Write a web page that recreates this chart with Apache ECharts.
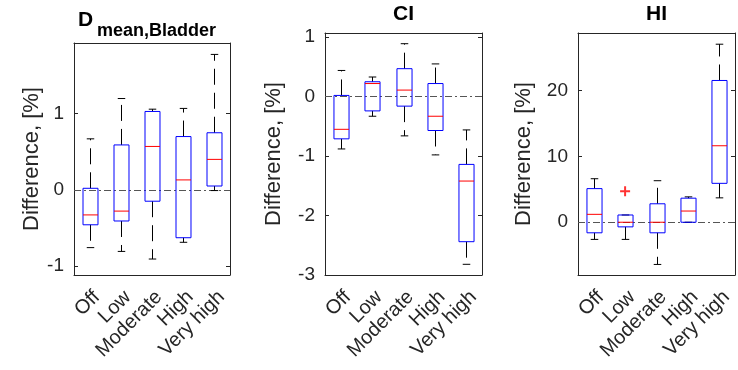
<!DOCTYPE html>
<html>
<head>
<meta charset="utf-8">
<script src="https://cdn.jsdelivr.net/npm/echarts@6/dist/echarts.min.js"></script>
<style>
  html, body { margin: 0; background: #fff; }
  #chart { width: 738px; height: 370px; }
</style>
</head>
<body>
<div id="chart"></div>
<script>
const categories = ['Off', 'Low', 'Moderate', 'High', 'Very high'];

// each box: [lower whisker, Q1, median, Q3, upper whisker]
const dmeanBoxes = [
  [-0.76, -0.46, -0.33, 0.02, 0.67],
  [-0.81, -0.41, -0.28, 0.59, 1.2],
  [-0.91, -0.15, 0.57, 1.03, 1.06],
  [-0.69, -0.63, 0.13, 0.7, 1.07],
  [-0.01, 0.05, 0.4, 0.75, 1.78]
];
const ciBoxes = [
  [-0.88, -0.71, -0.55, 0.02, 0.44],
  [-0.33, -0.24, 0.22, 0.25, 0.33],
  [-0.66, -0.16, 0.11, 0.47, 0.89],
  [-0.98, -0.57, -0.33, 0.22, 0.55],
  [-2.82, -2.44, -1.42, -1.14, -0.56]
];
const hiBoxes = [
  [-2.6, -1.6, 1.2, 5.1, 6.6],
  [-2.6, -0.7, 0, 1.1, 1.1],
  [-6.4, -1.6, 0, 2.8, 6.3],
  [0, 0, 1.7, 3.65, 3.85],
  [3.7, 5.9, 11.6, 21.5, 27.0]
];
// outliers: [category index, value]
const hiOutliers = [[1, 4.7]];

const dmeanTicks = [-1, 0, 1];
const ciTicks = [-3, -2, -1, 0, 1];
const hiTicks = [0, 10, 20];

const FONT = 'Liberation Sans';
const AXIS_COLOR = '#262626';

const panels = [
  { boxes: dmeanBoxes, ticks: dmeanTicks, min: -1.12, max: 1.93, grid: { left: 74, top: 43, width: 156, height: 232 }, nameGap: 30 },
  { boxes: ciBoxes, ticks: ciTicks, min: -3, max: 1.07, grid: { left: 325, top: 33, width: 157, height: 242 }, nameGap: 40 },
  { boxes: hiBoxes, ticks: hiTicks, min: -8, max: 28.7, grid: { left: 578, top: 33, width: 157, height: 242 }, nameGap: 43 }
];

const chart = echarts.init(document.getElementById('chart'), null, { renderer: 'canvas' });

function renderBox(params, api) {
  const x = api.value(0);
  const lo = api.coord([x, api.value(1)]);
  const q1 = api.coord([x, api.value(2)]);
  const md = api.coord([x, api.value(3)]);
  const q3 = api.coord([x, api.value(4)]);
  const hi = api.coord([x, api.value(5)]);
  const band = api.size([1, 0])[0];
  const bw = band * 0.48;
  const cw = band * 0.24;
  const cx = Math.round(lo[0]) + 0.5;
  const dash = [16, 8];
  return {
    type: 'group',
    children: [
      { type: 'line', shape: { x1: cx, y1: q3[1], x2: cx, y2: hi[1] }, style: { stroke: '#000', lineWidth: 1, lineDash: dash } },
      { type: 'line', shape: { x1: cx, y1: q1[1], x2: cx, y2: lo[1] }, style: { stroke: '#000', lineWidth: 1, lineDash: dash } },
      { type: 'line', shape: { x1: cx - cw / 2, y1: hi[1], x2: cx + cw / 2, y2: hi[1] }, style: { stroke: '#000', lineWidth: 1 } },
      { type: 'line', shape: { x1: cx - cw / 2, y1: lo[1], x2: cx + cw / 2, y2: lo[1] }, style: { stroke: '#000', lineWidth: 1 } },
      { type: 'rect', shape: { x: cx - bw / 2, y: q3[1], width: bw, height: q1[1] - q3[1] }, style: { fill: 'none', stroke: '#0000ff', lineWidth: 1 } },
      { type: 'line', shape: { x1: cx - bw / 2, y1: md[1], x2: cx + bw / 2, y2: md[1] }, style: { stroke: '#ff0000', lineWidth: 1 } }
    ]
  };
}

const grids = [], xAxes = [], yAxes = [], series = [];

panels.forEach((p, i) => {
  grids.push(Object.assign({ containLabel: false }, p.grid));
  const lineStyle = { color: AXIS_COLOR, width: 1 };
  xAxes.push({
    type: 'category', gridIndex: i, data: categories, position: 'bottom',
    boundaryGap: true,
    axisLine: { onZero: false, lineStyle },
    axisTick: { inside: true, alignWithLabel: true, length: 4, lineStyle },
    axisLabel: {
      rotate: 45, align: 'right', verticalAlign: 'top', margin: 12,
      interval: 0, color: AXIS_COLOR, fontFamily: FONT, fontSize: 20
    },
    splitLine: { show: false }
  });
  xAxes.push({
    type: 'category', gridIndex: i, data: categories, position: 'top',
    boundaryGap: true,
    axisLine: { onZero: false, lineStyle },
    axisTick: { inside: true, alignWithLabel: true, length: 4, lineStyle },
    axisLabel: { show: false },
    splitLine: { show: false }
  });
  yAxes.push({
    type: 'value', gridIndex: i, position: 'left', min: p.min, max: p.max,
    name: 'Difference, [%]', nameLocation: 'middle', nameGap: p.nameGap,
    nameTextStyle: { color: AXIS_COLOR, fontFamily: FONT, fontSize: 22 },
    axisLine: { show: true, onZero: false, lineStyle },
    axisTick: { show: true, inside: true, length: 4, lineStyle, customValues: p.ticks },
    axisLabel: { color: AXIS_COLOR, fontFamily: FONT, fontSize: 19, margin: 10, customValues: p.ticks },
    splitLine: { show: false }
  });
  yAxes.push({
    type: 'value', gridIndex: i, position: 'right', min: p.min, max: p.max,
    axisLine: { show: true, onZero: false, lineStyle },
    axisTick: { show: true, inside: true, length: 4, lineStyle, customValues: p.ticks },
    axisLabel: { show: false, customValues: p.ticks },
    splitLine: { show: false }
  });

  series.push({
    type: 'custom',
    xAxisIndex: i * 2,
    yAxisIndex: i * 2,
    renderItem: renderBox,
    encode: { x: 0, y: [1, 2, 3, 4, 5] },
    data: p.boxes.map((b, k) => [k].concat(b)),
    z: 3,
    markLine: {
      silent: true,
      symbol: 'none',
      label: { show: false },
      lineStyle: { color: '#555', width: 1, type: [7, 3, 2, 3] },
      data: [{ yAxis: 0 }],
      z: 2
    }
  });
});

series.push({
  type: 'scatter',
  xAxisIndex: 4,
  yAxisIndex: 4,
  data: hiOutliers,
  symbol: 'path://M4,0H6V4H10V6H6V10H4V6H0V4H4Z',
  symbolSize: 10,
  itemStyle: { color: '#ff0000' },
  z: 4
});

chart.setOption({
  animation: false,
  backgroundColor: '#fff',
  grid: grids,
  xAxis: xAxes,
  yAxis: yAxes,
  series: series,
  graphic: [
    { type: 'text', x: 78, y: 20, style: { text: 'D', font: 'bold 21px "Liberation Sans"', fill: '#000', align: 'left', verticalAlign: 'middle' } },
    { type: 'text', x: 97, y: 31, style: { text: 'mean,Bladder', font: 'bold 18px "Liberation Sans"', fill: '#000', align: 'left', verticalAlign: 'middle' } },
    { type: 'text', x: 403.5, y: 14, style: { text: 'CI', font: 'bold 21px "Liberation Sans"', fill: '#000', align: 'center', verticalAlign: 'middle' } },
    { type: 'text', x: 656.5, y: 14, style: { text: 'HI', font: 'bold 21px "Liberation Sans"', fill: '#000', align: 'center', verticalAlign: 'middle' } }
  ]
});
</script>
</body>
</html>
